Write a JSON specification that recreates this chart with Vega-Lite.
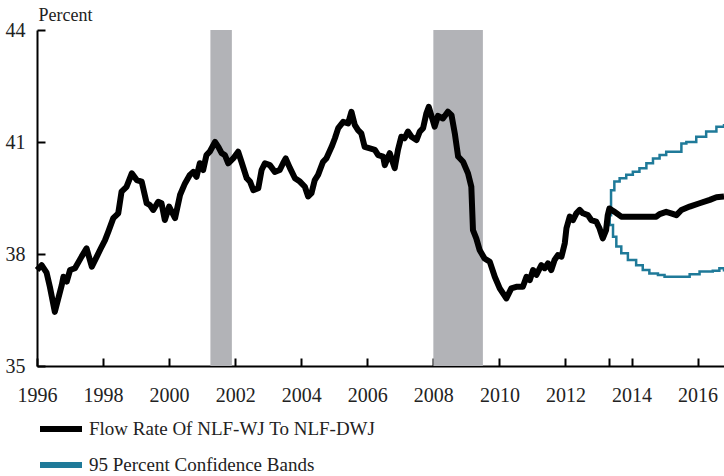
{
  "$schema": "https://vega.github.io/schema/vega-lite/v6.json",
  "width": 687,
  "height": 336,
  "autosize": {"type": "none"},
  "padding": {"left": 37, "top": 30, "right": 0, "bottom": 110},
  "background": "white",
  "config": {
    "view": {"stroke": null},
    "font": "Liberation Serif",
    "axis": {"labelFont": "Liberation Serif", "titleFont": "Liberation Serif", "labelColor": "#222", "titleColor": "#222", "grid": false, "domainColor": "#000", "domainWidth": 2, "tickColor": "#000", "tickWidth": 2, "zindex": 2}
  },
  "datasets": {
    "hist": [
      {"year": 1996.0, "value": 37.57}, {"year": 1996.14, "value": 37.7}, {"year": 1996.29, "value": 37.5}, {"year": 1996.39, "value": 37.12},
      {"year": 1996.54, "value": 36.45}, {"year": 1996.75, "value": 37.17}, {"year": 1996.8, "value": 37.39}, {"year": 1996.9, "value": 37.26},
      {"year": 1997.0, "value": 37.57}, {"year": 1997.15, "value": 37.62}, {"year": 1997.35, "value": 37.93}, {"year": 1997.5, "value": 38.15},
      {"year": 1997.66, "value": 37.66}, {"year": 1997.81, "value": 37.93}, {"year": 1997.96, "value": 38.2}, {"year": 1998.06, "value": 38.37},
      {"year": 1998.16, "value": 38.6}, {"year": 1998.31, "value": 38.96}, {"year": 1998.46, "value": 39.09}, {"year": 1998.56, "value": 39.67},
      {"year": 1998.71, "value": 39.8}, {"year": 1998.87, "value": 40.16}, {"year": 1999.02, "value": 39.98}, {"year": 1999.17, "value": 39.94},
      {"year": 1999.32, "value": 39.36}, {"year": 1999.42, "value": 39.31}, {"year": 1999.52, "value": 39.18}, {"year": 1999.67, "value": 39.4},
      {"year": 1999.77, "value": 39.36}, {"year": 1999.87, "value": 38.91}, {"year": 2000.0, "value": 39.27}, {"year": 2000.18, "value": 38.96},
      {"year": 2000.33, "value": 39.58}, {"year": 2000.48, "value": 39.89}, {"year": 2000.63, "value": 40.12}, {"year": 2000.73, "value": 40.2},
      {"year": 2000.83, "value": 40.07}, {"year": 2000.93, "value": 40.43}, {"year": 2001.03, "value": 40.25}, {"year": 2001.13, "value": 40.65},
      {"year": 2001.23, "value": 40.74}, {"year": 2001.39, "value": 41.0}, {"year": 2001.49, "value": 40.87}, {"year": 2001.59, "value": 40.7},
      {"year": 2001.69, "value": 40.65}, {"year": 2001.79, "value": 40.43}, {"year": 2001.94, "value": 40.56}, {"year": 2002.09, "value": 40.74},
      {"year": 2002.19, "value": 40.47}, {"year": 2002.35, "value": 40.03}, {"year": 2002.45, "value": 39.94}, {"year": 2002.55, "value": 39.71},
      {"year": 2002.7, "value": 39.76}, {"year": 2002.8, "value": 40.25}, {"year": 2002.9, "value": 40.43}, {"year": 2003.05, "value": 40.38},
      {"year": 2003.2, "value": 40.2}, {"year": 2003.35, "value": 40.25}, {"year": 2003.45, "value": 40.43}, {"year": 2003.53, "value": 40.56},
      {"year": 2003.66, "value": 40.3}, {"year": 2003.81, "value": 40.03}, {"year": 2003.96, "value": 39.94}, {"year": 2004.11, "value": 39.8},
      {"year": 2004.21, "value": 39.54}, {"year": 2004.31, "value": 39.63}, {"year": 2004.41, "value": 39.98}, {"year": 2004.51, "value": 40.12},
      {"year": 2004.66, "value": 40.47}, {"year": 2004.76, "value": 40.56}, {"year": 2004.92, "value": 40.87}, {"year": 2005.02, "value": 41.1},
      {"year": 2005.12, "value": 41.37}, {"year": 2005.27, "value": 41.54}, {"year": 2005.42, "value": 41.5}, {"year": 2005.52, "value": 41.81},
      {"year": 2005.62, "value": 41.46}, {"year": 2005.72, "value": 41.32}, {"year": 2005.82, "value": 41.23}, {"year": 2005.92, "value": 40.87},
      {"year": 2006.08, "value": 40.83}, {"year": 2006.23, "value": 40.79}, {"year": 2006.33, "value": 40.65}, {"year": 2006.48, "value": 40.61},
      {"year": 2006.53, "value": 40.38}, {"year": 2006.68, "value": 40.7}, {"year": 2006.83, "value": 40.3}, {"year": 2006.93, "value": 40.79},
      {"year": 2007.03, "value": 41.14}, {"year": 2007.13, "value": 41.1}, {"year": 2007.23, "value": 41.28}, {"year": 2007.34, "value": 41.14},
      {"year": 2007.49, "value": 41.05}, {"year": 2007.59, "value": 41.28}, {"year": 2007.69, "value": 41.37}, {"year": 2007.79, "value": 41.77},
      {"year": 2007.86, "value": 41.94}, {"year": 2007.95, "value": 41.68}, {"year": 2008.04, "value": 41.41}, {"year": 2008.14, "value": 41.7},
      {"year": 2008.29, "value": 41.63}, {"year": 2008.44, "value": 41.81}, {"year": 2008.55, "value": 41.72}, {"year": 2008.65, "value": 41.23},
      {"year": 2008.75, "value": 40.61}, {"year": 2008.9, "value": 40.47}, {"year": 2009.05, "value": 40.16}, {"year": 2009.15, "value": 39.8},
      {"year": 2009.2, "value": 38.64}, {"year": 2009.3, "value": 38.42}, {"year": 2009.4, "value": 38.11}, {"year": 2009.55, "value": 37.88},
      {"year": 2009.71, "value": 37.79}, {"year": 2009.86, "value": 37.39}, {"year": 2010.01, "value": 37.08}, {"year": 2010.21, "value": 36.81},
      {"year": 2010.36, "value": 37.08}, {"year": 2010.51, "value": 37.12}, {"year": 2010.71, "value": 37.12}, {"year": 2010.82, "value": 37.39},
      {"year": 2010.92, "value": 37.3}, {"year": 2011.02, "value": 37.57}, {"year": 2011.12, "value": 37.44}, {"year": 2011.27, "value": 37.7},
      {"year": 2011.37, "value": 37.62}, {"year": 2011.47, "value": 37.75}, {"year": 2011.57, "value": 37.57}, {"year": 2011.67, "value": 37.84},
      {"year": 2011.77, "value": 37.97}, {"year": 2011.88, "value": 37.93}, {"year": 2011.98, "value": 38.29}, {"year": 2012.03, "value": 38.69},
      {"year": 2012.13, "value": 39.0}, {"year": 2012.23, "value": 38.91}, {"year": 2012.33, "value": 39.09}, {"year": 2012.43, "value": 39.18},
      {"year": 2012.53, "value": 39.09}, {"year": 2012.68, "value": 39.04}, {"year": 2012.78, "value": 38.91}, {"year": 2012.93, "value": 38.87},
      {"year": 2013.03, "value": 38.69}, {"year": 2013.13, "value": 38.42}, {"year": 2013.23, "value": 38.64}, {"year": 2013.28, "value": 39.04},
      {"year": 2013.33, "value": 39.22}, {"year": 2013.39, "value": 39.18}, {"year": 2013.49, "value": 39.13}, {"year": 2013.69, "value": 39.0},
      {"year": 2014.0, "value": 39.0}, {"year": 2014.4, "value": 39.0}, {"year": 2014.75, "value": 39.0}, {"year": 2014.85, "value": 39.07},
      {"year": 2015.05, "value": 39.13}, {"year": 2015.2, "value": 39.09}, {"year": 2015.36, "value": 39.04}, {"year": 2015.51, "value": 39.18},
      {"year": 2015.76, "value": 39.27}, {"year": 2016.06, "value": 39.36}, {"year": 2016.37, "value": 39.45}, {"year": 2016.57, "value": 39.52},
      {"year": 2016.8, "value": 39.54}
    ],
    "bands": [
      {"year": 2013.28, "value": 39.04, "band": "upper"}, {"year": 2013.38, "value": 39.71, "band": "upper"}, {"year": 2013.48, "value": 39.94, "band": "upper"},
      {"year": 2013.64, "value": 40.03, "band": "upper"}, {"year": 2013.84, "value": 40.12, "band": "upper"}, {"year": 2014.04, "value": 40.2, "band": "upper"},
      {"year": 2014.24, "value": 40.3, "band": "upper"}, {"year": 2014.45, "value": 40.43, "band": "upper"}, {"year": 2014.65, "value": 40.56, "band": "upper"},
      {"year": 2014.85, "value": 40.65, "band": "upper"}, {"year": 2015.05, "value": 40.74, "band": "upper"}, {"year": 2015.36, "value": 40.74, "band": "upper"},
      {"year": 2015.51, "value": 40.96, "band": "upper"}, {"year": 2015.66, "value": 41.0, "band": "upper"}, {"year": 2015.96, "value": 41.14, "band": "upper"},
      {"year": 2016.26, "value": 41.28, "band": "upper"}, {"year": 2016.57, "value": 41.41, "band": "upper"}, {"year": 2016.8, "value": 41.48, "band": "upper"},
      {"year": 2013.28, "value": 39.04, "band": "lower"}, {"year": 2013.34, "value": 38.78, "band": "lower"}, {"year": 2013.44, "value": 38.46, "band": "lower"},
      {"year": 2013.54, "value": 38.2, "band": "lower"}, {"year": 2013.69, "value": 38.02, "band": "lower"}, {"year": 2013.89, "value": 37.84, "band": "lower"},
      {"year": 2014.14, "value": 37.7, "band": "lower"}, {"year": 2014.34, "value": 37.57, "band": "lower"}, {"year": 2014.54, "value": 37.48, "band": "lower"},
      {"year": 2014.8, "value": 37.44, "band": "lower"}, {"year": 2015.0, "value": 37.39, "band": "lower"}, {"year": 2015.56, "value": 37.39, "band": "lower"},
      {"year": 2015.76, "value": 37.46, "band": "lower"}, {"year": 2016.06, "value": 37.53, "band": "lower"}, {"year": 2016.46, "value": 37.55, "band": "lower"},
      {"year": 2016.66, "value": 37.62, "band": "lower"}, {"year": 2016.8, "value": 37.53, "band": "lower"}
    ],
    "recessions": [
      {"start": 2001.25, "end": 2001.9},
      {"start": 2008.0, "end": 2009.5}
    ]
  },
  "encoding": {
    "x": {
      "field": "year", "type": "quantitative",
      "scale": {"domain": [1996, 2016.8], "nice": false, "zero": false},
      "axis": {
        "title": null,
        "values": [1996, 1998, 2000, 2002, 2004, 2006, 2008, 2010, 2012, 2013.33, 2014, 2016],
        "format": "d",
        "labelExpr": "datum.value == floor(datum.value) ? datum.label : ''",
        "labelFontSize": 20, "labelPadding": 27, "tickSize": -8, "labelFlush": false
      }
    }
  },
  "layer": [
    {
      "data": {"name": "recessions"},
      "mark": {"type": "rect", "color": "#b2b3b7"},
      "encoding": {
        "x": {"field": "start", "type": "quantitative"},
        "x2": {"field": "end"}
      }
    },
    {
      "data": {"name": "bands"},
      "transform": [{"calculate": "'95 Percent Confidence Bands'", "as": "series"}],
      "mark": {"type": "line", "strokeWidth": 2.5, "interpolate": "step-after"},
      "encoding": {
        "y": {"field": "value", "type": "quantitative"},
        "color": {"field": "series", "type": "nominal"},
        "detail": {"field": "band"}
      }
    },
    {
      "data": {"name": "hist"},
      "transform": [{"calculate": "'Flow Rate Of NLF-WJ To NLF-DWJ'", "as": "series"}],
      "mark": {"type": "line", "strokeWidth": 6, "strokeJoin": "round"},
      "encoding": {
        "y": {
          "field": "value", "type": "quantitative",
          "scale": {"domain": [35, 44], "nice": false, "zero": false},
          "axis": {
            "title": "Percent", "titleAngle": 0, "titleAlign": "left", "titleBaseline": "bottom",
            "titleX": 1, "titleY": -6, "titleFontSize": 18, "titleFontWeight": "normal",
            "values": [35, 38, 41, 44], "labelFontSize": 20, "labelPadding": 20, "tickSize": -8
          }
        },
        "color": {
          "field": "series", "type": "nominal",
          "scale": {"domain": ["Flow Rate Of NLF-WJ To NLF-DWJ", "95 Percent Confidence Bands"], "range": ["#000000", "#1f7a99"]},
          "legend": {
            "title": null, "orient": "none", "legendX": 0, "legendY": 375, "padding": 0,
            "symbolType": "stroke", "symbolSize": 1764, "symbolStrokeWidth": 6,
            "labelFont": "Liberation Serif", "labelFontSize": 19, "labelColor": "#222", "labelOffset": 4, "labelLimit": 0,
            "rowPadding": -15, "direction": "vertical"
          }
        }
      }
    },
    {
      "mark": {"type": "rule", "color": "#000", "strokeWidth": 2.5, "strokeDash": [10, 6]},
      "encoding": {"x": {"datum": 2013.33}}
    },
    {
      "mark": {"type": "rule", "color": "#000", "strokeWidth": 2},
      "encoding": {"y": {"datum": 44}}
    },
    {
      "mark": {"type": "text", "align": "left", "baseline": "middle", "fontSize": 18, "font": "Liberation Serif", "color": "#222"},
      "encoding": {
        "x": {"datum": 2014.43},
        "y": {"datum": 43.45},
        "text": {"value": "Projection"}
      }
    }
  ]
}
